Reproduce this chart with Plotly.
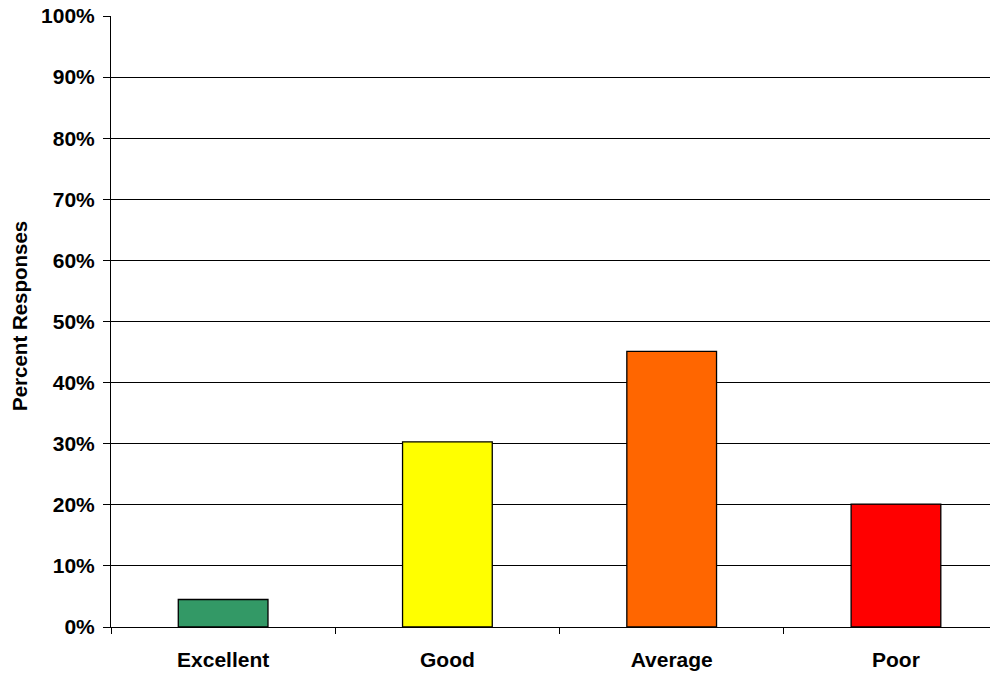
import plotly.graph_objects as go

categories = ["Excellent", "Good", "Average", "Poor"]
values = [4.5, 30.3, 45.1, 20.1]
colors = ["#339966", "#FFFF00", "#FF6600", "#FF0000"]
y_ticks = [0, 10, 20, 30, 40, 50, 60, 70, 80, 90, 100]
y_tick_labels = [f"{v}%" for v in y_ticks]

fig = go.Figure()
fig.add_trace(go.Bar(
    x=categories, y=values,
    marker=dict(color=colors, line=dict(color="black", width=1.3)),
    width=0.4,
))

font_family = "Liberation Sans, Arial, sans-serif"
fig.update_layout(
    width=990, height=667,
    margin=dict(l=103, r=0, t=8, b=48, autoexpand=False),
    plot_bgcolor="white", paper_bgcolor="white",
    showlegend=False,
    font=dict(family=font_family, color="black"),
    xaxis=dict(
        type="category",
        range=[-0.5, 3.455],
        automargin=False,
        showgrid=False,
        showline=True, linecolor="black", linewidth=1,
        ticks="outside", tickson="boundaries", ticklen=6, tickcolor="black",
        tickfont=dict(size=21, family=font_family, color="black", weight="bold"),
        ticklabelstandoff=14,
    ),
    yaxis=dict(
        range=[0, 100],
        automargin=False,
        ticklabeloverflow="allow",
        tickvals=y_ticks, ticktext=y_tick_labels,
        showgrid=True, gridcolor="black", gridwidth=1,
        showline=True, linecolor="black", linewidth=1,
        zeroline=False,
        ticks="outside", ticklen=7, tickcolor="black",
        tickfont=dict(size=21, family=font_family, color="black", weight="bold"),
        ticklabelstandoff=4,
    ),
    annotations=[dict(
        text="<b>Percent Responses</b>",
        xref="paper", yref="paper",
        x=-(111 - 19) / 887, y=(627 - 316) / 611,
        xanchor="center", yanchor="middle",
        textangle=-90, showarrow=False,
        font=dict(size=20.5, family=font_family, color="black"),
    )],
)

fig.write_html("out.html")
